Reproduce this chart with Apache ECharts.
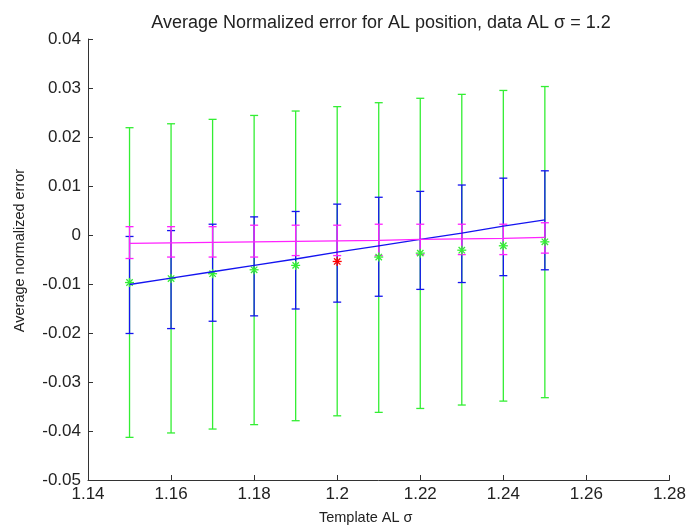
<!DOCTYPE html>
<html><head><meta charset="utf-8">
<script src="https://cdn.jsdelivr.net/npm/echarts@6/dist/echarts.min.js"></script>
<style>html,body{margin:0;padding:0;background:#fff}#c{width:689px;height:530px}</style>
</head><body><div id="c"></div>
<script>
const templateSigma = [1.15,1.16,1.17,1.18,1.19,1.2,1.21,1.22,1.23,1.24,1.25];
const dataSigma = 1.2;
// green: mean normalized error with wide error bars
const greenMean = [-0.0097,-0.0089,-0.0079,-0.0071,-0.0062,-0.0054,-0.0045,-0.0037,-0.0031,-0.0022,-0.0014];
const greenHigh = [0.0219,0.0227,0.0236,0.0244,0.0253,0.0262,0.0270,0.0279,0.0287,0.0295,0.0303];
const greenLow  = [-0.0413,-0.0404,-0.0396,-0.0387,-0.0379,-0.0369,-0.0362,-0.0354,-0.0347,-0.0339,-0.0332];
// blue: fitted line with error bars
const blueFit  = [-0.0101,-0.0088,-0.0075,-0.0062,-0.0049,-0.0035,-0.0022,-0.0009,0.0004,0.0018,0.0031];
const blueHigh = [-0.0003,0.0009,0.0022,0.0037,0.0048,0.0063,0.0077,0.0089,0.0102,0.0116,0.0131];
const blueLow  = [-0.0201,-0.0191,-0.0176,-0.0165,-0.0151,-0.0137,-0.0125,-0.0111,-0.0097,-0.0083,-0.0071];
// magenta: line with error bars
const magFit  = [-0.0017,-0.0016,-0.0015,-0.0014,-0.0013,-0.0012,-0.0011,-0.0009,-0.0008,-0.0007,-0.0005];
const magHigh = [0.0017,0.0017,0.0017,0.0020,0.0020,0.0020,0.0022,0.0022,0.0022,0.0022,0.0025];
const magLow  = [-0.0048,-0.0045,-0.0045,-0.0045,-0.0042,-0.0042,-0.0042,-0.0040,-0.0040,-0.0040,-0.0037];
const xTicks = {min:1.14, max:1.28, interval:0.02};
const yTicks = {min:-0.05, max:0.04, interval:0.01};

const GREEN='#33ee33', BLUE='#1414f0', MAG='#ff22ff', RED='#ff0000';
const FONT='Liberation Sans';

function errSeries(low, high, color){
  return {
    type:'custom', silent:true,
    data: templateSigma.map((x,i)=>[x, low[i], high[i]]),
    renderItem:(params, api)=>{
      const x=api.value(0);
      const a=api.coord([x, api.value(2)]), b=api.coord([x, api.value(1)]);
      const hw=4, st={stroke:color, lineWidth:1.3};
      return {type:'group', children:[
        {type:'line', shape:{x1:a[0],y1:a[1],x2:b[0],y2:b[1]}, style:st},
        {type:'line', shape:{x1:a[0]-hw,y1:a[1],x2:a[0]+hw,y2:a[1]}, style:st},
        {type:'line', shape:{x1:b[0]-hw,y1:b[1],x2:b[0]+hw,y2:b[1]}, style:st}
      ]};
    }
  };
}
function lineSeries(vals, color){
  return {type:'line', silent:true, symbol:'none', data: templateSigma.map((x,i)=>[x, vals[i]]),
    lineStyle:{color:color, width:1.3}, animation:false};
}
const starSeries = {
  type:'custom', silent:true,
  data: templateSigma.map((x,i)=>[x, greenMean[i]]),
  renderItem:(params, api)=>{
    const x=api.value(0);
    const p=api.coord([x, api.value(1)]);
    const col = Math.abs(x-dataSigma)<1e-9 ? RED : GREEN;
    const r=4.5, d=3.2, st={stroke:col, lineWidth:1.3};
    return {type:'group', children:[
      {type:'line', shape:{x1:p[0]-r,y1:p[1],x2:p[0]+r,y2:p[1]}, style:st},
      {type:'line', shape:{x1:p[0],y1:p[1]-r,x2:p[0],y2:p[1]+r}, style:st},
      {type:'line', shape:{x1:p[0]-d,y1:p[1]-d,x2:p[0]+d,y2:p[1]+d}, style:st},
      {type:'line', shape:{x1:p[0]-d,y1:p[1]+d,x2:p[0]+d,y2:p[1]-d}, style:st}
    ]};
  }
};

const chart = echarts.init(document.getElementById('c'), null, {renderer:'canvas'});
const axisCommon = {
  axisLine:{onZero:false, lineStyle:{color:'#333', width:1}},
  axisTick:{inside:true, length:5, lineStyle:{color:'#333'}},
  splitLine:{show:false},
  axisLabel:{color:'#222', fontFamily:FONT, fontSize:17},
  nameTextStyle:{color:'#222', fontFamily:FONT, fontSize:14.5}
};
chart.setOption({
  animation:false,
  backgroundColor:'#fff',
  title:{text:'Average Normalized error for AL position, data AL σ = 1.2', left:376, top:9, textAlign:'center',
    textStyle:{fontFamily:FONT, fontSize:18, fontWeight:'normal', color:'#222'}},
  grid:{left:88, right:18, top:39, bottom:50},
  xAxis:Object.assign({type:'value', min:xTicks.min, max:xTicks.max, interval:xTicks.interval,
    name:'Template AL σ', nameLocation:'middle', nameGap:30}, axisCommon,
    {axisLabel:Object.assign({}, axisCommon.axisLabel, {margin:6, formatter:v=>String(+v.toFixed(2))}),
     nameTextStyle:Object.assign({}, axisCommon.nameTextStyle, {padding:[0,26,0,0]})}),
  yAxis:Object.assign({type:'value', min:yTicks.min, max:yTicks.max, interval:yTicks.interval,
    name:'Average normalized error', nameLocation:'middle', nameGap:61}, axisCommon,
    {axisLabel:Object.assign({}, axisCommon.axisLabel, {margin:7, formatter:v=>String(+v.toFixed(2))}),
     nameTextStyle:Object.assign({}, axisCommon.nameTextStyle, {padding:[0,0,0,18]})}),
  series:[
    errSeries(greenLow, greenHigh, GREEN),
    errSeries(blueLow, blueHigh, BLUE),
    errSeries(magLow, magHigh, MAG),
    lineSeries(blueFit, BLUE),
    lineSeries(magFit, MAG),
    starSeries
  ]
});
</script></body></html>
